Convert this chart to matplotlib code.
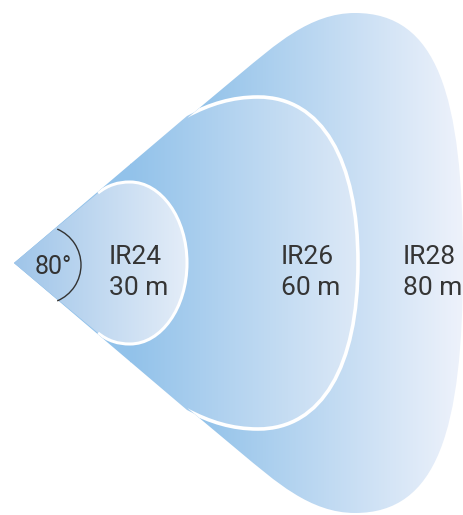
import matplotlib
matplotlib.use("Agg")
import matplotlib.pyplot as plt
import numpy as np
from matplotlib.path import Path
from matplotlib.patches import PathPatch, Arc
from matplotlib.colors import LinearSegmentedColormap

# illuminator models and their range
models = ["IR24", "IR26", "IR28"]
ranges_m = [30, 60, 80]
beam_angle = 80

plt.rcParams['font.family'] = ['Roboto', 'DejaVu Sans']

W, H = 464, 515
fig = plt.figure(figsize=(W / 100, H / 100), dpi=100)
ax = fig.add_axes([0, 0, 1, 1])
ax.set_xlim(0, W)
ax.set_ylim(H, 0)
ax.axis('off')

apex = (14, 263)
cy = apex[1]


def mirror(p):
    return (p[0], 2 * cy - p[1])


def lobe_path(S, a1, a2, T, b1, b2, R):
    verts = [apex, S, a1, a2, T, b1, b2, R,
             mirror(b2), mirror(b1), mirror(T),
             mirror(a2), mirror(a1), mirror(S), apex, apex]
    codes = [Path.MOVETO, Path.LINETO] + [Path.CURVE4] * 12 + [Path.LINETO, Path.CLOSEPOLY]
    curve = Path([S, a1, a2, T, b1, b2, R, mirror(b2), mirror(b1), mirror(T),
                  mirror(a2), mirror(a1), mirror(S)],
                 [Path.MOVETO] + [Path.CURVE4] * 12)
    return Path(verts, codes), curve


# shapes for each lobe
shapes = {
    "IR28": ((240, 74), (275, 45), (310, 13), (355, 13), (437, 13), (463, 95), (463, 263)),
    "IR26": ((187, 116), (210, 104), (232, 97), (258, 97), (322, 97), (358, 160), (358, 263)),
    "IR24": ((98, 193), (108, 185), (118, 182), (130, 182), (161, 182), (187, 218), (187, 263)),
}
grads = {
    "IR28": (190, 463, "#90c1e9", "#eef2fb"),
    "IR26": (130, 358, "#92c2ea", "#dde9f7"),
    "IR24": (14, 187, "#9fc5e9", "#e4edf8"),
}
strokes = {"IR28": 0, "IR26": 2.6, "IR24": 2.2}
parent = {"IR26": "IR28", "IR24": "IR26"}

patches = {}
for name in models[::-1]:
    path, curve = lobe_path(*shapes[name])
    patch = PathPatch(path, facecolor='none', edgecolor='none')
    ax.add_patch(patch)
    patches[name] = patch
    x0, x1, c0, c1 = grads[name]
    cmap = LinearSegmentedColormap.from_list(name, [c0, c1])
    grad = np.linspace(0, 1, 256).reshape(1, -1)
    im = ax.imshow(grad, cmap=cmap, aspect='auto', extent=[x0, x1, H, 0],
                   interpolation='bilinear', zorder=1)
    im.set_clip_path(patch)
    if x0 > 14:
        solid = LinearSegmentedColormap.from_list(name + "s", [c0, c0])
        im2 = ax.imshow(np.zeros((1, 2)), cmap=solid, aspect='auto',
                        extent=[0, x0 + 1, H, 0], zorder=1)
        im2.set_clip_path(patch)
    if strokes[name]:
        ln = PathPatch(curve, facecolor='none', edgecolor='white',
                       lw=strokes[name], zorder=2)
        ax.add_patch(ln)
        ln.set_clip_path(patches[parent[name]])

ax.set_xlim(0, W)
ax.set_ylim(H, 0)

# beam angle arc
ax.add_patch(Arc((42, 265), 78, 78, theta1=-67, theta2=67, color='#333333', lw=1.0, zorder=3))
ax.text(35, 267, f"{beam_angle}°", fontsize=18, color='#333333', ha='left', va='center', zorder=4)

label_x = {"IR24": 109, "IR26": 281, "IR28": 403}
for name, r in zip(models, ranges_m):
    ax.text(label_x[name], 257, name, fontsize=19, color='#353535', ha='left', va='center', zorder=4)
    ax.text(label_x[name], 288, f"{r} m", fontsize=19, color='#353535', ha='left', va='center', zorder=4)

fig.savefig("out.png", dpi=100)
